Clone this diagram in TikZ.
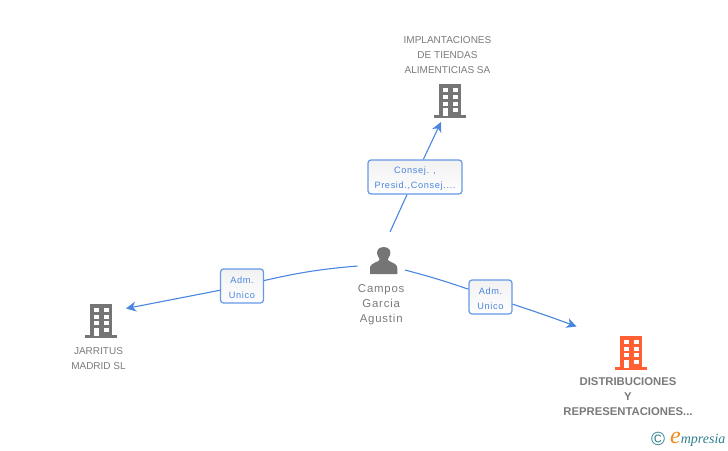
\documentclass[tikz,border=0pt]{standalone}
\usepackage{fontspec}
\setmainfont{Liberation Sans}
\newfontfamily\logofont{Liberation Serif}
\usetikzlibrary{positioning,arrows.meta}
\definecolor{linkblue}{HTML}{4A86E0}
\definecolor{boxtop}{HTML}{F1F1F1}
\definecolor{icongrey}{HTML}{757575}
\definecolor{txtgrey}{HTML}{7A7A7A}
\definecolor{redbldg}{HTML}{FF5F33}
\definecolor{logoteal}{HTML}{2F7F8F}
\definecolor{logoorange}{HTML}{F08A1D}
\newcommand{\bldg}[1]{\tikz[x=1pt,y=-1pt]{
	\fill[#1] (-11,-17) rectangle (11,15);
	\fill[#1] (-16,14.5) rectangle (16,17);
	\foreach \wy in {-12.7,-6,0.7}{
		\fill[white] (-7.3,\wy) rectangle ++(5.6,4);
		\fill[white] (2.7,\wy) rectangle ++(5.4,4);
	}
	\fill[white] (2.7,7.3) rectangle ++(5.4,4);
	\fill[white] (-7,7.3) rectangle (-2,15);
}}
\newcommand{\persona}{\tikz[x=1pt,y=-1pt]{
	\fill[icongrey] (0,-13.5) .. controls (-6,-13.5) and (-7.5,-9) .. (-6.3,-5.5) .. controls (-5.6,-3.5) and (-4.5,-2.5) .. (-4,-1) .. controls (-4.5,1.5) and (-12,2) .. (-13.5,6) -- (-13.7,13.5) -- (13.7,13.5) -- (13.5,6) .. controls (12,2) and (4.5,1.5) .. (4,-1) .. controls (4.5,-2.5) and (5.6,-3.5) .. (6.3,-5.5) .. controls (7.5,-9) and (6,-13.5) .. (0,-13.5) -- cycle;
}}
\newcommand{\up}{\rule{0pt}{10.5pt}}
\tikzset{
	icon/.style={inner sep=0pt,outer sep=0pt},
	lbl/.style={align=center,text=txtgrey,font=\fontsize{10}{15}\selectfont,inner sep=0pt},
	lblb/.style={lbl,font=\fontsize{11.3}{15}\bfseries\selectfont},
	rel/.style={draw=linkblue!85,line width=1.2pt,rounded corners=3pt,top color=boxtop,bottom color=white,
		text=linkblue,align=center,inner sep=0pt,font=\fontsize{9.2}{15}\addfontfeature{LetterSpace=7}\selectfont},
	link/.style={draw=linkblue,line width=1.1pt},
	tip/.style={-{Stealth[length=10pt,width=10pt,inset=3pt]}}
}
\begin{document}
\begin{tikzpicture}[x=1pt,y=-1pt]
	\useasboundingbox (0,0) rectangle (728,450);

	\node[icon] (impl) at (450,100.8) {\bldg{icongrey}};
	\node[icon] (jarr) at (101,320.5) {\bldg{icongrey}};
	\node[icon] (dist) at (631,352.5) {\bldg{redbldg}};
	\node[icon] (pers) at (383.7,260.5) {\persona};

	\node[lbl,above=10.5pt of impl,xshift=-2.5pt] (implt) {IMPLANTACIONES\\DE TIENDAS\\ALIMENTICIAS SA};
	\node[lbl,below=9.5pt of jarr,xshift=-2.5pt] (jarrt) {JARRITUS\\MADRID SL};
	\node[lblb,below=7.5pt of dist,xshift=-3pt] (distt) {DISTRIBUCIONES\\Y\\REPRESENTACIONES...};
	\node[lbl,below=10.5pt of pers,xshift=-2.5pt,font=\fontsize{11.4}{15}\addfontfeature{LetterSpace=7}\selectfont] (perst) {Campos\\Garcia\\Agustin};

	\node[rel,minimum width=94pt,minimum height=34pt] (r1) at (415,177) {\up Consej. ,\\Presid.,Consej....};
	\node[rel,minimum width=43pt,minimum height=34pt] (r2) at (242,286) {\up Adm.\\Unico};
	\node[rel,minimum width=43pt,minimum height=34pt] (r3) at (490.5,297) {\up Adm.\\Unico};

	\coordinate (p1) at (390,232);
	\coordinate (p2) at (357.5,266);
	\coordinate (p3) at (405,270);
	\coordinate (e1) at (441,122);
	\coordinate (e2) at (126,308.5);
	\coordinate (e3) at (576.5,326.5);

	\draw[link] (p1) -- (r1);
	\draw[link,tip] (r1) -- (e1);
	\draw[link] (p2) to[bend right=4] (r2);
	\draw[link,tip] (r2) -- (e2);
	\draw[link] (p3) to[bend left=2] (r3);
	\draw[link,tip] (r3) to[bend left=1] (e3);

	% logo
	\node[inner sep=0pt,text=logoteal,font=\fontsize{19}{19}\selectfont] (copy) at (658,439) {©};
	\node[inner sep=0pt,anchor=west,font=\logofont\itshape\fontsize{14}{15}\selectfont,text=logoteal] (logo) at (670,439) {{\fontsize{24}{15}\selectfont\textcolor{logoorange}{e}}mpresia};
\end{tikzpicture}
\end{document}
